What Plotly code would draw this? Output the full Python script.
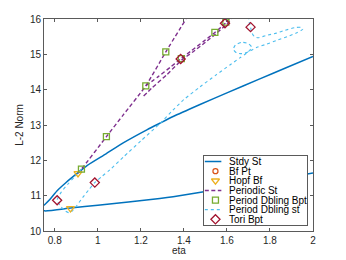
import plotly.graph_objects as go

# ---------------- data ----------------
# Steady state branch: lower branch (right->left), fold, then upper branch
stdy_eta = [2.0, 1.75, 1.5, 1.35, 1.288, 1.0, 0.873, 0.753, 0.71,
            0.75, 0.777, 0.811, 0.85, 0.908, 0.95, 1.04, 1.12, 1.23,
            1.288, 1.35, 1.475, 1.6, 1.75, 1.875, 2.0]
stdy_norm = [11.64, 11.37, 11.12, 10.97, 10.92, 10.73, 10.65, 10.57, 10.64,
             10.73, 10.89, 11.14, 11.36, 11.65, 11.85, 12.19, 12.50, 12.87,
             13.05, 13.24, 13.58, 13.91, 14.30, 14.62, 14.94]

# Periodic states (three dashed branches)
per_a_eta = [0.908, 0.924, 1.04, 1.12, 1.223, 1.316, 1.41]
per_a_norm = [11.63, 11.75, 12.67, 13.30, 14.11, 15.07, 16.0]
per_b_eta = [1.223, 1.281, 1.336, 1.385, 1.43, 1.49, 1.544, 1.591, 1.61]
per_b_norm = [14.11, 14.37, 14.63, 14.87, 15.08, 15.36, 15.62, 15.87, 16.0]
per_c_eta = [1.213, 1.25, 1.32, 1.366, 1.392, 1.44, 1.50, 1.552, 1.60, 1.622]
per_c_norm = [13.82, 14.04, 14.42, 14.70, 14.85, 15.06, 15.34, 15.60, 15.86, 16.0]

# Period doubled states (dotted)
pd_eta = [0.924, 0.89, 0.86, 0.83, 0.811, 0.83, 0.85, 0.865, 0.88, 0.90,
          0.93, 0.96, 0.986, 1.02, 1.056, 1.12, 1.20, 1.29, 1.349, 1.40,
          1.475, 1.55, 1.614, 1.66, 1.695, 1.715, 1.70, 1.67, 1.64, 1.63,
          1.645, 1.67, 1.70, 1.74, 1.78, 1.83, 1.88, 1.925, 1.952, 1.945,
          1.92, 1.87, 1.83, 1.78, 1.745, 1.728, 1.715, 1.71, 1.704, 1.70]
pd_norm = [11.75, 11.52, 11.32, 11.10, 10.87, 10.68, 10.56, 10.52, 10.56, 10.70,
           10.95, 11.18, 11.37, 11.55, 11.73, 12.10, 12.55, 13.05, 13.42, 13.72,
           14.08, 14.42, 14.70, 14.90, 15.05, 15.20, 15.30, 15.34, 15.27, 15.14,
           15.04, 15.02, 15.07, 15.20, 15.28, 15.39, 15.50, 15.61, 15.71, 15.76,
           15.76, 15.68, 15.60, 15.53, 15.47, 15.50, 15.62, 15.77, 15.90, 16.05]

# Special points
bf_eta = [0.71]
bf_norm = [10.64]
hopf_eta = [0.908, 0.873]
hopf_norm = [11.63, 10.64]
pdb_eta = [0.924, 1.04, 1.223, 1.316, 1.388, 1.544, 1.595]
pdb_norm = [11.75, 12.67, 14.11, 15.07, 14.88, 15.62, 15.91]
tori_eta = [0.811, 0.986, 1.385, 1.591, 1.71]
tori_norm = [10.87, 11.37, 14.87, 15.88, 15.77]

x_ticks = [0.8, 1.0, 1.2, 1.4, 1.6, 1.8, 2.0]
x_tick_labels = ["0.8", "1", "1.2", "1.4", "1.6", "1.8", "2"]
y_ticks = [10, 11, 12, 13, 14, 15, 16]
y_tick_labels = ["10", "11", "12", "13", "14", "15", "16"]

legend_names = ["Stdy St", "Bf Pt", "Hopf Bf", "Periodic St",
                "Period Dbling Bpt", "Period Dbling st", "Tori Bpt"]
x_title = "eta"
y_title = "L-2 Norm"

# ---------------- styles ----------------
BLUE = "#0072BD"
ORANGE = "#D95319"
YELLOW = "#EDB120"
PURPLE = "#7E2F8E"
GREEN = "#77AC30"
LBLUE = "#4DBEEE"
RED = "#A2142F"
AXC = "#5a5a5a"
FONT = "Liberation Sans, Arial, sans-serif"
DASH = "4px,2.5px"

fig = go.Figure()


def line(x, y, color, dash="solid", width=1.5):
    fig.add_trace(go.Scatter(x=x, y=y, mode="lines", showlegend=False,
                             line=dict(color=color, width=width, dash=dash, shape="spline",
                                       smoothing=0.6),
                             hoverinfo="skip"))


def mark(x, y, color, symbol, size=6):
    fig.add_trace(go.Scatter(x=x, y=y, mode="markers", showlegend=False,
                             marker=dict(symbol=symbol, size=size, color=color,
                                         line=dict(color=color, width=1.3)),
                             hoverinfo="skip"))


line(stdy_eta, stdy_norm, BLUE, width=1.5)
line(per_a_eta, per_a_norm, PURPLE, DASH, 1.4)
line(per_b_eta, per_b_norm, PURPLE, DASH, 1.4)
line(per_c_eta, per_c_norm, PURPLE, DASH, 1.4)
line(pd_eta, pd_norm, LBLUE, "dot", 1.1)
mark(bf_eta, bf_norm, ORANGE, "circle-open", 5)
mark(hopf_eta, hopf_norm, YELLOW, "triangle-down-open", 7)
mark(pdb_eta, pdb_norm, GREEN, "square-open", 6)
mark(tori_eta, tori_norm, RED, "diamond-open", 7)

# ---------------- hand-made compact legend (own small axes) ----------------
leg_styles = [
    ("line", BLUE, "solid", None, 0),
    ("marker", ORANGE, None, "circle-open", 5),
    ("marker", YELLOW, None, "triangle-down-open", 7),
    ("line", PURPLE, DASH, None, 0),
    ("marker", GREEN, None, "square-open", 6),
    ("line", LBLUE, "dot", None, 0),
    ("marker", RED, None, "diamond-open", 7),
]
LX0, LX1, LXM, LXT = 0.01, 0.17, 0.113, 0.235
for i, (name, (kind, col, dash, sym, sz)) in enumerate(zip(legend_names, leg_styles)):
    if kind == "line":
        fig.add_trace(go.Scatter(x=[LX0, LX1], y=[i, i], mode="lines", xaxis="x2", yaxis="y2",
                                 showlegend=False, hoverinfo="skip",
                                 line=dict(color=col, width=1.5 if dash != "dot" else 1.1, dash=dash)))
    else:
        fig.add_trace(go.Scatter(x=[LXM], y=[i], mode="markers", xaxis="x2", yaxis="y2",
                                 showlegend=False, hoverinfo="skip",
                                 marker=dict(symbol=sym, size=sz, color=col,
                                             line=dict(color=col, width=1.3))))
    fig.add_annotation(x=LXT, y=i, xref="x2", yref="y2", text=name, showarrow=False,
                       xanchor="left", yanchor="middle", borderpad=0,
                       font=dict(size=10, color="#000000", family=FONT))

# x-axis title as an annotation just under the tick labels
fig.add_annotation(x=0.5, y=0, xref="paper", yref="paper", text=x_title, showarrow=False,
                   xanchor="center", yanchor="top", yshift=-13, borderpad=0,
                   font=dict(size=10, color="#262626", family=FONT))

axis_common = dict(ticks="inside", ticklen=3, tickcolor=AXC, showline=True, linecolor=AXC,
                   linewidth=1, mirror="ticks", showgrid=False, zeroline=False,
                   automargin=False, tickfont=dict(size=10, color="#262626"))

# The page body has an 8px margin: the figure is 8px smaller and the top/left margins shifted
fig.update_layout(
    template="none",
    width=338, height=252,
    margin=dict(l=36, r=33, t=11, b=29, pad=0),
    paper_bgcolor="white", plot_bgcolor="white",
    font=dict(family=FONT, size=10, color="#262626"),
    showlegend=False,
    xaxis=dict(range=[0.75, 2.0], tickvals=x_ticks, ticktext=x_tick_labels, **axis_common),
    yaxis=dict(range=[10, 16], tickvals=y_ticks, ticktext=y_tick_labels,
               title=dict(text=y_title, standoff=4, font=dict(size=10)), **axis_common),
    xaxis2=dict(domain=[0.594, 0.978], anchor="y2", range=[0, 1], showline=True,
                mirror=True, linecolor=AXC, linewidth=1, showticklabels=False,
                ticks="", showgrid=False, zeroline=False, fixedrange=True, automargin=False),
    yaxis2=dict(domain=[0.028, 0.355], anchor="x2", range=[6.6, -0.6], showline=True,
                mirror=True, linecolor=AXC, linewidth=1, showticklabels=False,
                ticks="", showgrid=False, zeroline=False, fixedrange=True, automargin=False),
)

fig.write_html("out.html")
